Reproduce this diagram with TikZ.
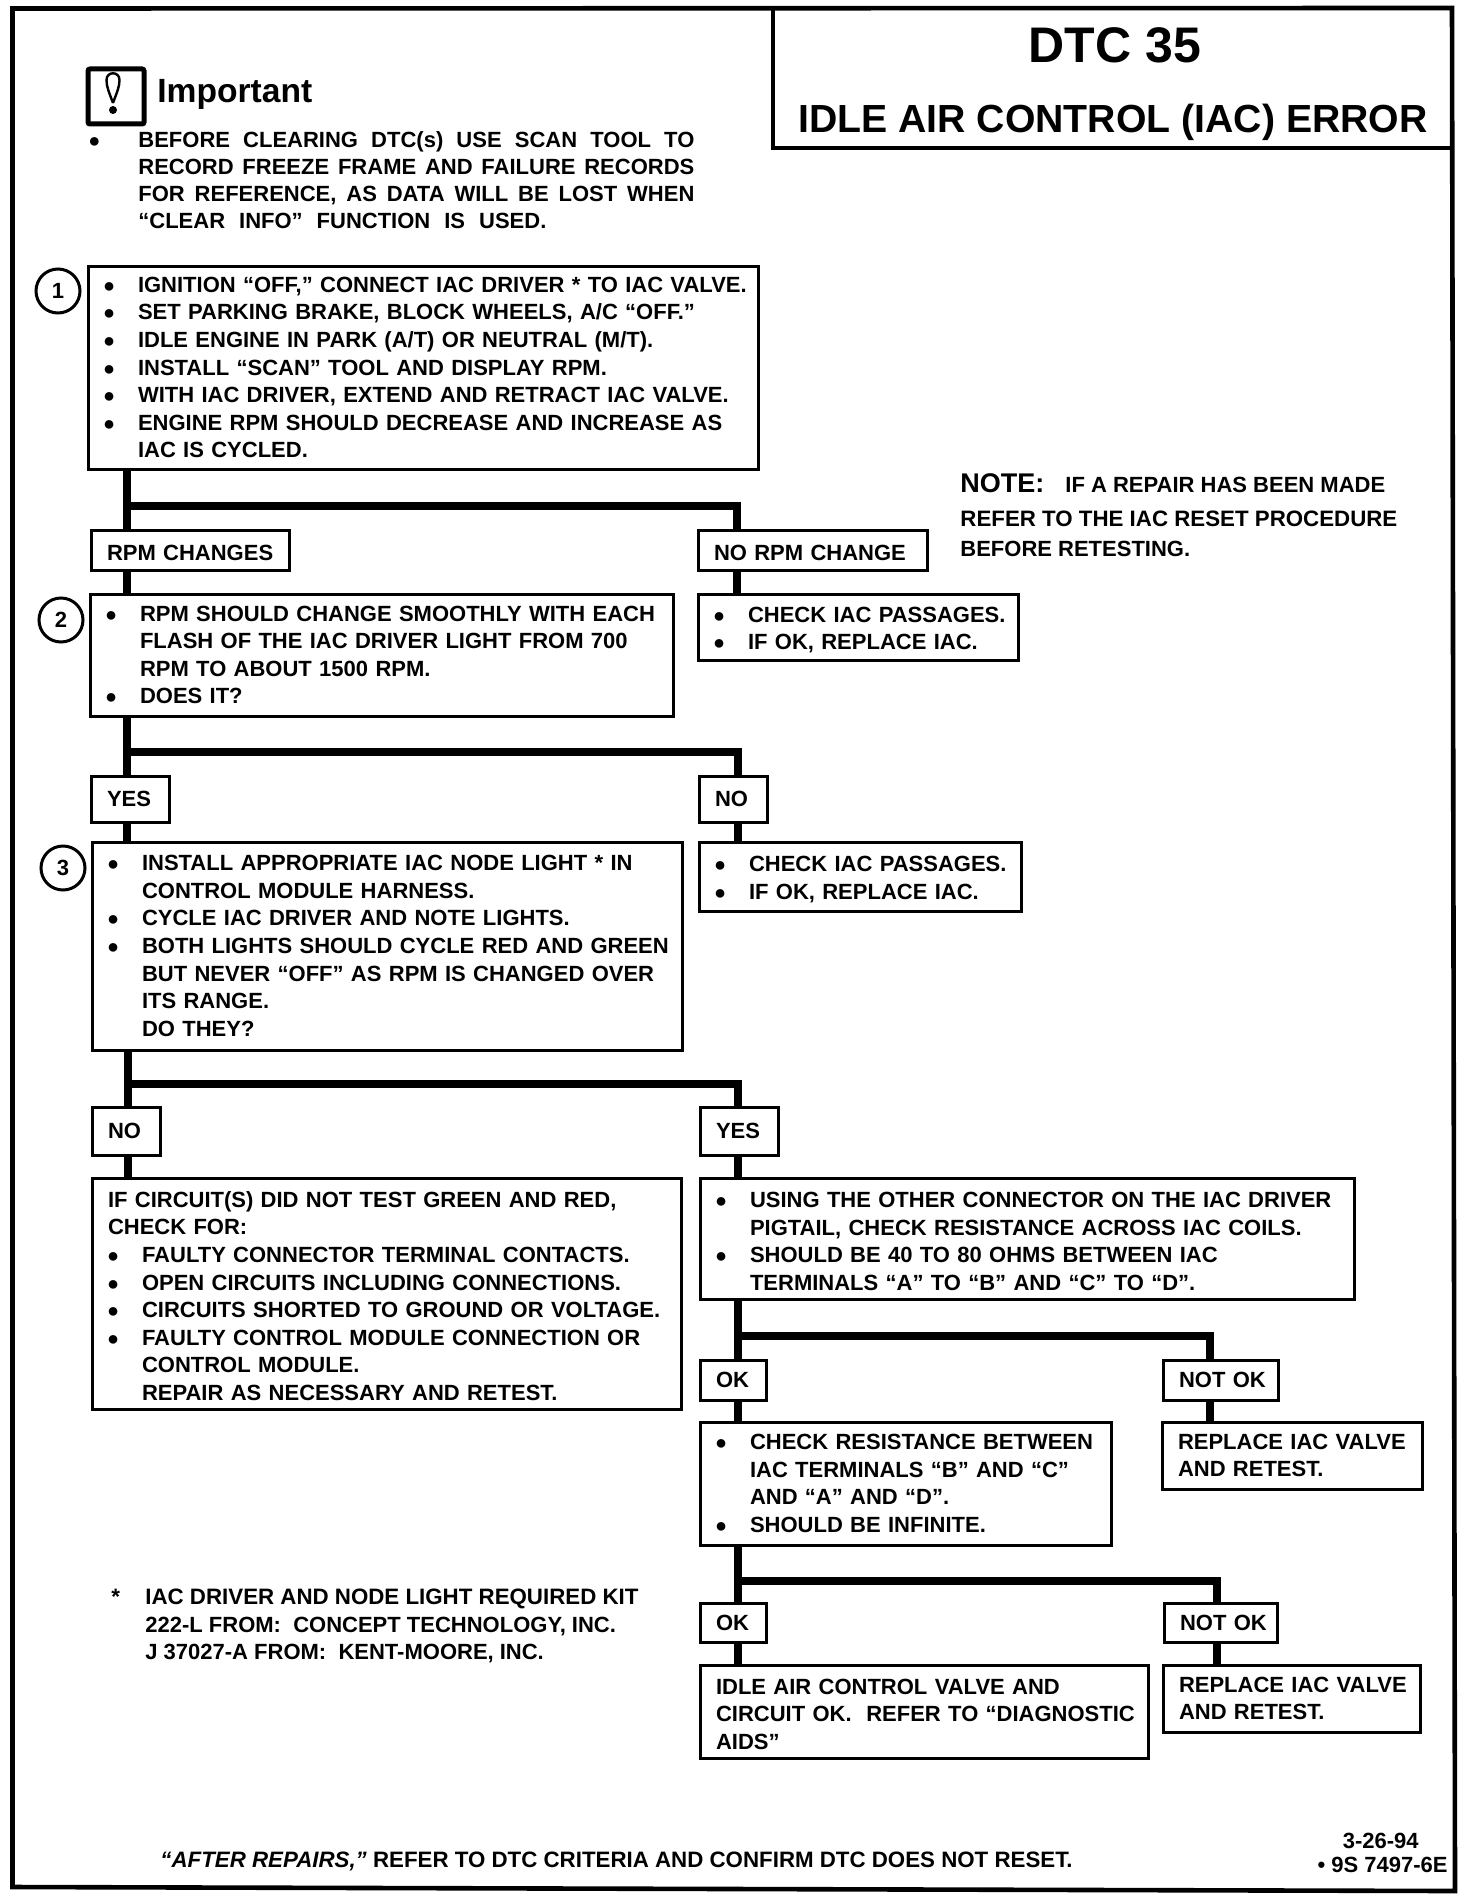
\documentclass[tikz,border=0pt]{standalone}
\usepackage{fontspec}
\setmainfont{Liberation Sans}
\newcommand{\bodyfont}{\fontsize{11}{13.8}\selectfont\bfseries}
\newcommand{\bigbul}{{\fontsize{10}{10}\selectfont ●}}
% one line of a box: bullet, continuation, plain
\newcommand{\bl}{\hspace*{7.5pt}\makebox[17.5pt][l]{\bigbul}}
\newcommand{\cn}{\hspace*{25pt}}
\newcommand{\pl}{\hspace*{8pt}}
\tikzset{
	every node/.style={font=\bodyfont},
	stepbox/.style 2 args={draw, line width=1.5pt, anchor=north west, inner sep=0pt, outer sep=0pt, align=left, text width={#1*0.5pt}, minimum height={#2*0.5pt}},
	low/.style={execute at begin node={\rule{0pt}{10.5pt}}},
	stepnum/.style={draw, circle, line width=1.5pt, inner sep=0pt, minimum size=22pt},
	plain/.style={anchor=base west, inner sep=0pt},
	foot/.style={plain, font=\fontsize{11.15}{13.8}\selectfont\bfseries},
	trunk/.style={line width=4.2pt},
	frame/.style={line width=2.3pt}
}
\begin{document}
\begin{tikzpicture}[x=0.5pt, y=-0.5pt]
	\useasboundingbox (0, 0) rectangle (1472, 1900);

	% --- frame and title ---
	\draw[frame] (12.5, 8.5) -- (1452, 8) -- (1455, 1891) -- (12.5, 1887) -- cycle;
	\draw[line width=2pt] (773, 8) -- (773, 148) -- (1452, 148);
	\node[anchor=base, inner sep=0pt, font=\fontsize{25}{28}\selectfont\bfseries] (dtc) at (1115, 63) {DTC 35};
	\node[anchor=base, inner sep=0pt, font=\fontsize{19.6}{24}\selectfont\bfseries] (iac) at (1113, 133) {IDLE AIR CONTROL (IAC) ERROR};

	% --- important ---
	\node[draw, line width=2.5pt, rounded corners=1pt, inner sep=0pt, minimum width=28pt, minimum height=27.5pt, anchor=north west] (icon) at (85.5, 66.5) {};
	\draw[line width=1.2pt] (113, 103) .. controls (109, 92) and (106.5, 87) .. (106.5, 80) .. controls (106.5, 71) and (119.5, 71) .. (119.5, 80) .. controls (119.5, 87) and (117, 92) .. (113, 103);
	\fill (113, 110) circle (4);
	\node[plain, font=\fontsize{16.8}{20}\selectfont\bfseries] (important) at (157, 103) {Important};
	\node[plain] (ibul) at (88, 148) {\bigbul};
	\node[plain] (i1) at (138, 148) {\makebox[278pt][s]{BEFORE CLEARING DTC(s) USE SCAN TOOL TO}};
	\node[plain] (i2) at (138, 175) {\makebox[278pt][s]{RECORD FREEZE FRAME AND FAILURE RECORDS}};
	\node[plain] (i3) at (138, 201) {\makebox[278pt][s]{FOR REFERENCE, AS DATA WILL BE LOST WHEN}};
	\node[plain] (i4) at (138, 228) {\makebox[204pt][s]{“CLEAR INFO” FUNCTION IS USED.}};

	% --- note ---
	\node[plain, font=\fontsize{13.5}{16}\selectfont\bfseries] (note) at (960, 492) {NOTE:};
	\node[plain] (n1) at (1065, 492) {IF A REPAIR HAS BEEN MADE};
	\node[foot] (n2) at (960, 526) {REFER TO THE IAC RESET PROCEDURE};
	\node[plain] (n3) at (960, 556) {BEFORE RETESTING.};

	% --- steps ---
	\node[stepnum] (num1) at (58, 291) {1};
	\node[stepbox={670}{203}] (step1) at (88, 266) {%
		\bl IGNITION “OFF,” CONNECT IAC DRIVER * TO IAC VALVE.\\
		\bl SET PARKING BRAKE, BLOCK WHEELS, A/C “OFF.”\\
		\bl IDLE ENGINE IN PARK (A/T) OR NEUTRAL (M/T).\\
		\bl INSTALL “SCAN” TOOL AND DISPLAY RPM.\\
		\bl WITH IAC DRIVER, EXTEND AND RETRACT IAC VALVE.\\
		\bl ENGINE RPM SHOULD DECREASE AND INCREASE AS\\
		\cn IAC IS CYCLED.};

	\node[stepbox={198}{40}, low] (rpmyes) at (91, 530) {\pl RPM CHANGES};
	\node[stepbox={229}{40}, low] (rpmno) at (698, 530) {\pl NO RPM CHANGE};

	\node[stepnum] (num2) at (61, 620) {2};
	\node[stepbox={583}{122}] (step2) at (90, 594) {%
		\bl RPM SHOULD CHANGE SMOOTHLY WITH EACH\\
		\cn FLASH OF THE IAC DRIVER LIGHT FROM 700\\
		\cn RPM TO ABOUT 1500 RPM.\\
		\bl DOES IT?};
	\node[stepbox={320}{66}, low] (checka) at (698, 594) {%
		\bl CHECK IAC PASSAGES.\\
		\bl IF OK, REPLACE IAC.};

	\node[stepbox={78}{46}] (yesa) at (91, 776) {\pl YES};
	\node[stepbox={68}{46}] (noa) at (699, 776) {\pl NO};

	\node[stepnum] (num3) at (63, 868) {3};
	\node[stepbox={590}{208}] (step3) at (92, 842) {%
		\bl INSTALL APPROPRIATE IAC NODE LIGHT * IN\\
		\cn CONTROL MODULE HARNESS.\\
		\bl CYCLE IAC DRIVER AND NOTE LIGHTS.\\
		\bl BOTH LIGHTS SHOULD CYCLE RED AND GREEN\\
		\cn BUT NEVER “OFF” AS RPM IS CHANGED OVER\\
		\cn ITS RANGE.\\
		\cn DO THEY?};
	\node[stepbox={322}{69}, low] (checkb) at (699, 842) {%
		\bl CHECK IAC PASSAGES.\\
		\bl IF OK, REPLACE IAC.};

	\node[stepbox={68}{48}] (nob) at (92, 1107) {\pl NO};
	\node[stepbox={78}{48}] (yesb) at (700, 1107) {\pl YES};

	\node[stepbox={589}{231}, low] (faulty) at (92, 1178) {%
		\pl IF CIRCUIT(S) DID NOT TEST GREEN AND RED,\\
		\pl CHECK FOR:\\
		\bl FAULTY CONNECTOR TERMINAL CONTACTS.\\
		\bl OPEN CIRCUITS INCLUDING CONNECTIONS.\\
		\bl CIRCUITS SHORTED TO GROUND OR VOLTAGE.\\
		\bl FAULTY CONTROL MODULE CONNECTION OR\\
		\cn CONTROL MODULE.\\
		\cn REPAIR AS NECESSARY AND RETEST.};
	\node[stepbox={654}{121}, low] (step4) at (700, 1178) {%
		\bl USING THE OTHER CONNECTOR ON THE IAC DRIVER\\
		\cn PIGTAIL, CHECK RESISTANCE ACROSS IAC COILS.\\
		\bl SHOULD BE 40 TO 80 OHMS BETWEEN IAC\\
		\cn TERMINALS “A” TO “B” AND “C” TO “D”.};

	\node[stepbox={66}{40}] (oka) at (700, 1360) {\pl OK};
	\node[stepbox={115}{40}] (notoka) at (1163, 1360) {\pl NOT OK};

	\node[stepbox={411}{123}] (step5) at (700, 1422) {%
		\bl CHECK RESISTANCE BETWEEN\\
		\cn IAC TERMINALS “B” AND “C”\\
		\cn AND “A” AND “D”.\\
		\bl SHOULD BE INFINITE.};
	\node[stepbox={260}{67}] (repla) at (1162, 1422) {%
		\pl REPLACE IAC VALVE\\
		\pl AND RETEST.};

	\node[stepbox={66}{39}] (okb) at (700, 1603) {\pl OK};
	\node[stepbox={113}{39}] (notokb) at (1164, 1603) {\pl NOT OK};

	\node[stepbox={448}{93}, low] (final) at (700, 1665) {%
		\pl IDLE AIR CONTROL VALVE AND\\
		\pl CIRCUIT OK.\ \ REFER TO “DIAGNOSTIC\\
		\pl AIDS”};
	\node[stepbox={257}{67}] (replb) at (1163, 1665) {%
		\pl REPLACE IAC VALVE\\
		\pl AND RETEST.};

	% --- footnote and footer ---
	\node[foot] (star) at (111, 1604) {*};
	\node[foot] (f1) at (145, 1604) {IAC DRIVER AND NODE LIGHT REQUIRED KIT};
	\node[plain] (f2) at (145, 1632) {222-L FROM:\ \ CONCEPT TECHNOLOGY, INC.};
	\node[plain] (f3) at (145, 1659) {J 37027-A FROM:\ \ KENT-MOORE, INC.};
	\node[foot] (after) at (160, 1867) {\textit{“AFTER REPAIRS,”} REFER TO DTC CRITERIA AND CONFIRM DTC DOES NOT RESET.};
	\node[plain, anchor=base east] (date) at (1419, 1848) {3-26-94};
	\node[plain, anchor=base east] (part) at (1448, 1872) {\textbullet\ 9S 7497-6E};

	% --- connectors ---
	\coordinate (j1) at (127, 506);
	\coordinate (k1) at (737, 506);
	\draw[trunk] (step1.south -| j1) -- (rpmyes.north -| j1);
	\draw[trunk] (j1) -| (k1 |- rpmno.north);
	\draw[trunk] (rpmyes.south -| j1) -- (step2.north -| j1);
	\draw[trunk] (rpmno.south -| k1) -- (checka.north -| k1);

	\coordinate (j2) at (127, 752);
	\coordinate (k2) at (738, 752);
	\draw[trunk] (step2.south -| j2) -- (yesa.north -| j2);
	\draw[trunk] (j2) -| (k2 |- noa.north);
	\draw[trunk] (yesa.south -| j2) -- (step3.north -| j2);
	\draw[trunk] (noa.south -| k2) -- (checkb.north -| k2);

	\coordinate (j3) at (128, 1084);
	\coordinate (k3) at (738, 1084);
	\draw[trunk] (step3.south -| j3) -- (nob.north -| j3);
	\draw[trunk] (j3) -| (k3 |- yesb.north);
	\draw[trunk] (nob.south -| j3) -- (faulty.north -| j3);
	\draw[trunk] (yesb.south -| k3) -- (step4.north -| k3);

	\coordinate (j4) at (738, 1336);
	\coordinate (k4) at (1210, 1336);
	\draw[trunk] (step4.south -| j4) -- (oka.north -| j4);
	\draw[trunk] (j4) -| (k4 |- notoka.north);
	\draw[trunk] (oka.south -| j4) -- (step5.north -| j4);
	\draw[trunk] (notoka.south -| k4) -- (repla.north -| k4);

	\coordinate (j5) at (738, 1581);
	\coordinate (k5) at (1217, 1581);
	\draw[trunk] (step5.south -| j5) -- (okb.north -| j5);
	\draw[trunk] (j5) -| (k5 |- notokb.north);
	\draw[trunk] (okb.south -| j5) -- (final.north -| j5);
	\draw[trunk] (notokb.south -| k5) -- (replb.north -| k5);
\end{tikzpicture}
\end{document}
